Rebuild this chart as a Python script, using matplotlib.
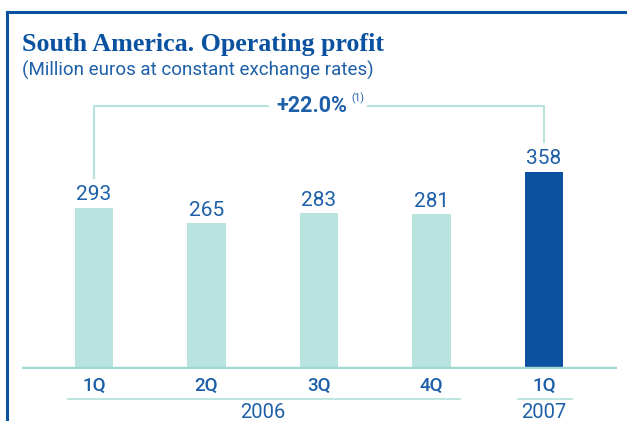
import matplotlib
matplotlib.use("Agg")
import matplotlib.pyplot as plt
from matplotlib.lines import Line2D
from matplotlib.transforms import blended_transform_factory

# datos
quarters = ["1Q", "2Q", "3Q", "4Q", "1Q"]
profit = [293, 265, 283, 281, 358]
years = ["2006", "2007"]
year_span = [(0, 3), (4, 4)]   # primer y último trimestre de cada año
growth = "+22.0%"
note = "(1)"

BLUE = "#0a52a0"
TEXT = "#1d5fa8"
TEAL = "#b9e3de"
TEAL_LINE = "#a2d8d2"

narrow = ["Roboto", "DejaVu Sans"]

fig = plt.figure(figsize=(6.27, 4.21), dpi=100)
W, H = 627.0, 421.0

# marco azul (arriba e izquierda)
fig.add_artist(Line2D([7 / W, 7 / W], [0, 1 - 12 / H], color=BLUE, lw=2.2))
fig.add_artist(Line2D([7 / W, 1], [1 - 12 / H, 1 - 12 / H], color=BLUE, lw=2.2))

fig.text(22 / W, 1 - 45 / H, "South America. Operating profit",
         family="Liberation Serif", weight="bold", fontsize=18.7,
         color=BLUE, va="center", ha="left")
fig.text(22 / W, 1 - 70 / H, "(Million euros at constant exchange rates)",
         family=narrow, stretch="condensed", fontsize=13.5, color=TEXT,
         va="center", ha="left")

ax = fig.add_axes([22 / W, (H - 369) / H, 595 / W, 275 / H])
ax.set_xlim(-0.64, 4.65)
ax.set_ylim(0, 500)
for s in ax.spines.values():
    s.set_visible(False)
ax.set_yticks([])

x = list(range(len(profit)))
colors = [TEAL] * (len(profit) - 1) + [BLUE]
ax.bar(x, profit, width=0.34, color=colors, zorder=2)
ax.axhline(0, color=TEAL_LINE, lw=3.2, zorder=3)

for xi, v in zip(x, profit):
    ax.annotate(str(v), (xi, v), xytext=(0, 9.5), textcoords="offset points",
                ha="center", va="center", family=narrow, stretch="condensed",
                fontsize=15, color=TEXT)

ax.set_xticks(x)
ax.set_xticklabels(quarters, family=narrow, stretch="condensed", fontsize=13.5,
                   color=TEXT, weight="medium")
ax.tick_params(axis="x", length=0, pad=6)

# años con subrayado
tr = blended_transform_factory(ax.transData, ax.transAxes)
for yr, (a, b) in zip(years, year_span):
    ax.plot([a - 0.23, b + 0.25], [-0.109, -0.109], transform=tr,
            color=TEAL, lw=1.3, clip_on=False)
    ax.text((a + b) / 2, -0.158, yr, transform=tr, ha="center", va="center",
            family=narrow, stretch="condensed", fontsize=14.5, color=TEXT)

# corchete de variación 1Q06 -> 1Q07
y_top = 478
mid = 1.94
ax.plot([x[0], x[0], 1.55], [347, y_top, y_top], color=TEAL, lw=1.5,
        clip_on=False, zorder=1)
ax.plot([2.44, x[-1], x[-1]], [y_top, y_top, 413], color=TEAL, lw=1.5,
        clip_on=False, zorder=1)
ax.text(mid, y_top, growth, ha="center", va="center", family=narrow,
        stretch="condensed", fontsize=15.5, weight="bold", color=TEXT)
ax.text(mid + 0.41, y_top + 15, note, ha="center", va="center",
        family=narrow, fontsize=7.5, color=TEXT)

fig.savefig("out.png", dpi=100)
